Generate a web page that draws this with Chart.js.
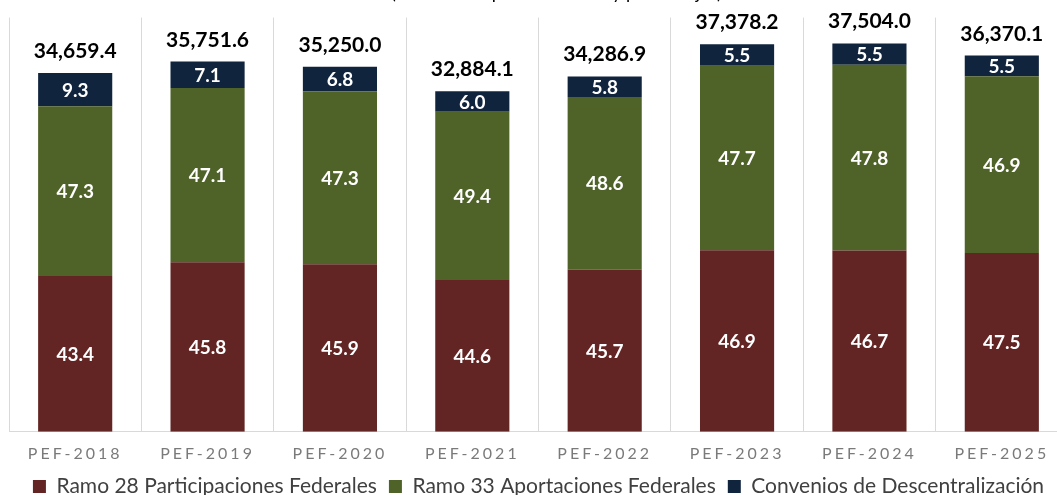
<!DOCTYPE html>
<html>
<head>
<meta charset="utf-8">
<script src="https://cdn.jsdelivr.net/npm/chart.js@4"></script>
<style>
  html, body { margin: 0; padding: 0; background: #fff; overflow: hidden; }
  #wrap { position: relative; width: 1057px; height: 495px; overflow: hidden; }
  #box { position: absolute; left: 0; top: -18px; width: 1072px; height: 536px; }
</style>
</head>
<body>
<div id="wrap"><div id="box"><canvas id="myChart"></canvas></div></div>
<script>
const categorias = ['PEF-2018', 'PEF-2019', 'PEF-2020', 'PEF-2021', 'PEF-2022', 'PEF-2023', 'PEF-2024', 'PEF-2025'];
const totales = [34659.4, 35751.6, 35250.0, 32884.1, 34286.9, 37378.2, 37504.0, 36370.1];
const ramo28 = [43.4, 45.8, 45.9, 44.6, 45.7, 46.9, 46.7, 47.5];
const ramo33 = [47.3, 47.1, 47.3, 49.4, 48.6, 47.7, 47.8, 46.9];
const convenios = [9.3, 7.1, 6.8, 6.0, 5.8, 5.5, 5.5, 5.5];

// altura de cada tramo = total * porcentaje
function monto(pct) {
  return pct.map((p, i) => totales[i] * p / 100);
}

const etiquetas = {
  id: 'etiquetas',
  afterLayout(chart) {
    // leyenda un poco mas arriba, titulo un poco a la derecha
    chart.legend.top -= 11;
    chart.legend.bottom -= 11;
    chart.titleBlock.left += 18;
    chart.titleBlock.right += 18;

    const sx = chart.scales.x;
    if (sx._wrapped) return;
    const orig = sx.drawLabels;
    sx.drawLabels = function (area) {
      chart.ctx.save();
      chart.ctx.letterSpacing = '3px';
      orig.call(this, area);
      chart.ctx.restore();
    };
    sx._wrapped = true;
  },
  afterDatasetsDraw(chart) {
    const ctx = chart.ctx;
    ctx.save();
    ctx.textAlign = 'center';
    ctx.textBaseline = 'middle';
    ctx.fillStyle = '#ffffff';
    ctx.font = 'bold 19px Lato';
    chart.data.datasets.forEach((ds, d) => {
      chart.getDatasetMeta(d).data.forEach((bar, i) => {
        ctx.fillText(ds.pct[i].toFixed(1), bar.x, (bar.y + bar.base) / 2 + 1);
      });
    });
    ctx.fillStyle = '#000000';
    ctx.font = 'bold 21px Lato';
    ctx.textBaseline = 'alphabetic';
    chart.getDatasetMeta(2).data.forEach((bar, i) => {
      const txt = totales[i].toLocaleString('en-US', { minimumFractionDigits: 1, maximumFractionDigits: 1 });
      ctx.fillText(txt, bar.x, bar.y - 15);
    });
    ctx.restore();
  }
};

const ctx1 = document.getElementById('myChart');

new Chart(ctx1, {
    type: 'bar',
    data: {
        labels: categorias,
        datasets: [{
            label: 'Ramo 28 Participaciones Federales',
            data: monto(ramo28),
            pct: ramo28,
            backgroundColor: '#632523'
        }, {
            label: 'Ramo 33 Aportaciones Federales',
            data: monto(ramo33),
            pct: ramo33,
            backgroundColor: '#4f6228'
        }, {
            label: 'Convenios de Descentralización',
            data: monto(convenios),
            pct: convenios,
            backgroundColor: '#10243e'
        }]
    },
    options: {
        responsive: true,
        maintainAspectRatio: false,
        animation: false,
        barPercentage: 0.56,
        categoryPercentage: 1,
        layout: {
          padding: { left: 9, right: 4, top: 0, bottom: 0 }
        },
        scales: {
            x: {
              stacked: true,
              grid: {
                color: '#d9d9d9',
                drawTicks: false,
                offset: true
              },
              border: { color: '#d9d9d9' },
              ticks: {
                  color: '#7a7a7a',
                  padding: 12,
                  font: {
                      family: 'Lato',
                      size: 16
                  }
              }
          },
            y: {
              stacked: true,
              display: false,
              min: 0,
              max: 40000
            }
        },
        plugins: {
          title: {
            display: true,
            text: '(Millones de pesos de 2025 y porcentajes)',
            color: '#000',
            font: { family: 'Lato', size: 18, weight: 'normal' },
            padding: { top: 0, bottom: 14 }
          },
          tooltip: { enabled: false },
          legend: {
            display: true,
            position: 'bottom',
            labels: {
              color: '#404040',
              boxWidth: 13,
              boxHeight: 13,
              padding: 12,
              font: { family: 'Lato', size: 21 }
            }
          }
        }
    },
    plugins: [etiquetas]
});
</script>
</body>
</html>
